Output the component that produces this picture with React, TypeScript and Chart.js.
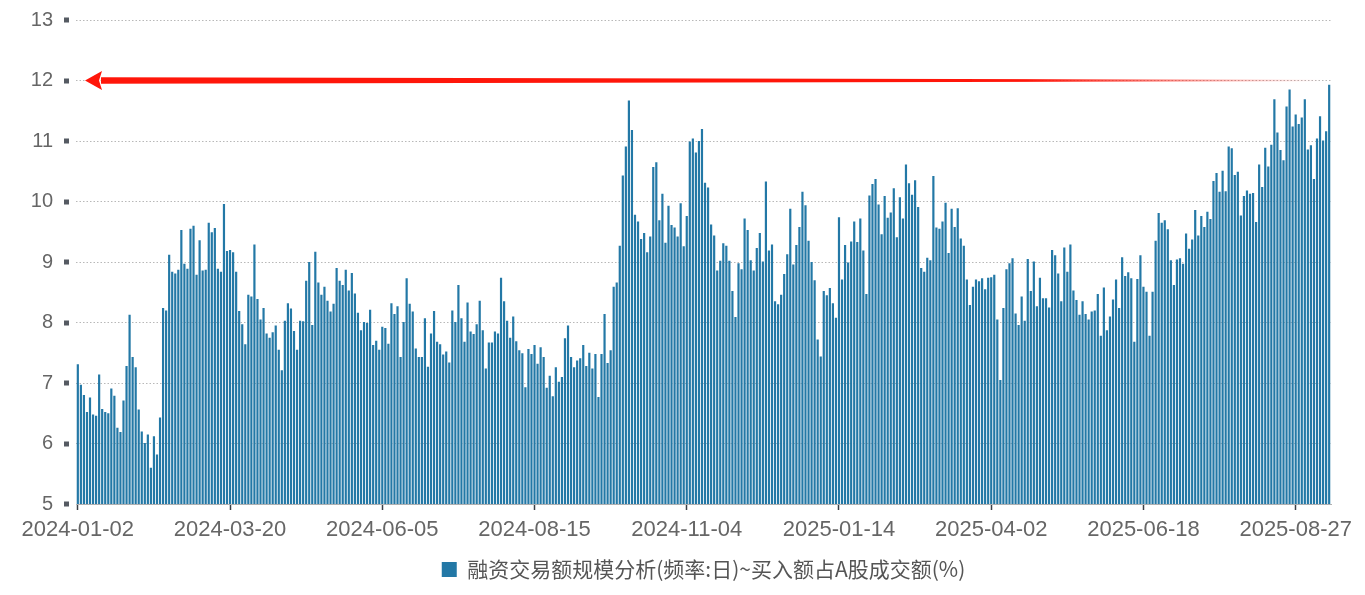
import { useEffect, useRef } from "react";
import { Chart, registerables } from "chart.js";

Chart.register(...registerables);

// daily values, 2024-01-02 .. 2024-12-31
const values2024 = [
  7.31, 6.97, 6.8, 6.52, 6.76, 6.48, 6.46, 7.14, 6.57, 6.52,
  6.5, 6.91, 6.79, 6.26, 6.19, 6.71, 7.28, 8.13, 7.43, 7.26,
  6.56, 6.2, 6.01, 6.15, 5.6, 6.12, 5.82, 6.43, 8.24, 8.2,
  9.12, 8.84, 8.81, 8.87, 9.53, 8.97, 8.89, 9.55, 9.6, 8.79,
  9.36, 8.86, 8.87, 9.65, 9.49, 9.56, 8.89, 8.84, 9.96, 9.18,
  9.2, 9.16, 8.84, 8.19, 7.97, 7.64, 8.46, 8.43, 9.29, 8.39,
  8.05, 8.24, 7.82, 7.75, 7.84, 7.95, 7.55, 7.21, 8.03, 8.32,
  8.23, 7.86, 7.55, 8.03, 8.02, 8.69, 9.0, 7.96, 9.17, 8.66,
  8.46, 8.59, 8.36, 8.18, 8.31, 8.9, 8.69, 8.62, 8.87, 8.53,
  8.82, 8.48, 8.16, 7.87, 8.01, 7.99, 8.21, 7.63, 7.7, 7.55,
  7.93, 7.91, 7.65, 8.32, 8.14, 8.27, 7.43, 8.01, 8.73, 8.31,
  8.18, 7.57, 7.43, 7.43, 8.07, 7.27, 7.82, 8.19, 7.68, 7.64,
  7.47, 7.52, 7.34, 8.2, 8.01, 8.62, 8.07, 7.68, 8.33, 7.85,
  7.81, 7.97, 8.36, 7.87, 7.24, 7.67, 7.67, 7.85, 7.82, 8.74,
  8.35, 8.03, 7.75, 8.1, 7.69, 7.54, 7.49, 6.93, 7.56, 7.48,
  7.63, 7.32, 7.59, 7.43, 6.92, 7.12, 6.78, 7.26, 7.02, 7.1,
  7.74, 7.95, 7.43, 7.26, 7.37, 7.41, 7.63, 7.28, 7.5, 7.24,
  7.48, 6.77, 7.48, 8.14, 7.33, 7.54, 8.59, 8.66, 9.27, 10.43,
  10.91, 11.67, 11.18, 9.78, 9.67, 9.38, 9.48, 9.16, 9.42, 10.57,
  10.65, 9.69, 10.13, 9.32, 9.93, 9.61, 9.57, 9.42, 9.97, 9.26,
  9.76, 10.99, 11.04, 10.81, 11.0, 11.2, 10.31, 10.23, 9.62, 9.44,
  8.86, 9.02, 9.31, 9.27, 9.02, 8.52, 8.09, 8.98, 8.88, 9.72,
  9.53, 9.03, 8.86, 9.23, 9.48, 9.01, 10.33, 9.19, 9.29, 8.35,
  8.3, 8.46, 8.8, 9.13, 9.88, 8.96, 9.28, 9.58, 10.16, 9.94,
  9.35, 9.0,
];

// daily values, 2025-01-02 onwards
const values2025 = [
  8.7, 7.72, 7.44, 8.52, 8.45, 8.57, 8.32, 8.08, 9.74, 8.71,
  9.28, 8.99, 9.34, 9.67, 9.33, 9.72, 9.19, 8.47, 10.1, 10.29,
  10.37, 9.95, 9.46, 10.09, 9.73, 9.82, 10.22, 9.41, 10.07, 9.72,
  10.61, 10.3, 10.11, 10.35, 9.91, 8.9, 8.84, 9.07, 9.03, 10.42,
  9.57, 9.55, 9.67, 9.98, 9.15, 9.88, 9.58, 9.89, 9.39, 9.27,
  8.71, 8.29, 8.59, 8.71, 8.68, 8.73, 8.55, 8.74, 8.75, 8.79,
  8.05, 7.05, 8.24, 8.88, 8.98, 9.06, 8.15, 7.96, 8.43, 8.03,
  9.05, 8.52, 9.01, 8.27, 8.74, 8.4, 8.4, 8.25, 9.2, 9.11,
  8.81, 8.35, 9.24, 8.84, 9.29, 8.53, 8.37, 8.13, 8.35, 8.14,
  8.05, 8.18, 8.2, 8.47, 7.78, 8.58, 7.87, 8.1, 8.38, 8.71,
  8.24, 9.08, 8.77, 8.83, 8.73, 7.68, 8.72, 9.11, 8.59, 8.51,
  7.78, 8.51, 9.35, 9.81, 9.65, 9.69, 9.54, 9.03, 8.62, 9.04,
  9.06, 8.97, 9.47, 9.22, 9.37, 9.86, 9.44, 9.76, 9.58, 9.83,
  9.71, 10.34, 10.47, 10.16, 10.51, 10.17, 10.91, 10.88, 10.44, 10.49,
  9.77, 10.09, 10.18, 10.13, 10.14, 9.66, 10.61, 10.24, 10.89, 10.58,
  10.94, 11.69, 11.14, 10.85, 10.68, 11.57, 11.85, 11.24, 11.44, 11.28,
  11.39, 11.69, 10.86, 10.93, 10.37, 11.04, 11.41, 11.01, 11.16, 11.93,
];

// x-axis labels, one every 50 trading days
const tickLabels = [
  "2024-01-02", "2024-03-20", "2024-06-05", "2024-08-15", "2024-11-04",
  "2025-01-14", "2025-04-02", "2025-06-18", "2025-08-27",
];
const tickStep = 50;

const seriesName = "融资交易额规模分析(频率:日)~买入额占A股成交额(%)";
const markLevel = 12;

const barColor = "#2378a6";
const fontFamily = "'Liberation Sans', 'Noto Sans CJK SC', sans-serif";

// small square markers left of the y grid lines
const yMarkers = {
  id: "yMarkers",
  afterDraw(chart: any) {
    const { ctx, chartArea, scales } = chart;
    ctx.save();
    ctx.fillStyle = "#555a62";
    scales.y.ticks.forEach((t: any) => {
      const py = Math.round(scales.y.getPixelForValue(t.value));
      ctx.fillRect(chartArea.left - 12, py - 2.5, 5, 5);
    });
    ctx.restore();
  },
};

// red arrow pointing at the 12 level
const arrow = {
  id: "arrow",
  afterDatasetsDraw(chart: any) {
    const { ctx, chartArea, scales } = chart;
    const y = scales.y.getPixelForValue(markLevel);
    const tipX = chartArea.left + 9;
    const headX = tipX + 17;
    const endX = chartArea.right - 8;
    const grad = ctx.createLinearGradient(tipX, 0, endX, 0);
    grad.addColorStop(0, "rgba(255,22,10,1)");
    grad.addColorStop(0.76, "rgba(255,22,10,1)");
    grad.addColorStop(1, "rgba(255,22,10,0)");
    ctx.save();
    ctx.fillStyle = grad;
    ctx.beginPath();
    ctx.moveTo(headX - 1, y - 3.2);
    ctx.lineTo(endX, y - 0.7);
    ctx.lineTo(endX, y + 0.7);
    ctx.lineTo(headX - 1, y + 3.2);
    ctx.closePath();
    ctx.fill();
    ctx.beginPath();
    ctx.moveTo(tipX, y);
    ctx.lineTo(headX, y - 9.5);
    ctx.lineTo(headX - 3, y);
    ctx.lineTo(headX, y + 9.5);
    ctx.closePath();
    ctx.fill();
    ctx.restore();
  },
};

export default function App() {
  const chartRef = useRef<HTMLCanvasElement>(null);
  const chartInstance = useRef<Chart | null>(null);

  useEffect(() => {
    document.body.style.margin = "0";
    if (!chartRef.current) return;
    if (chartInstance.current) chartInstance.current.destroy();

    const values = [...values2024, ...values2025];

    chartInstance.current = new Chart(chartRef.current, {
      type: "bar",
      data: {
        datasets: [
          {
            label: seriesName,
            data: values.map((v, i) => ({ x: i, y: v })),
            backgroundColor: barColor,
            borderWidth: 0,
          },
        ],
      },
      options: {
        animation: false,
        responsive: true,
        maintainAspectRatio: false,
        layout: { padding: { top: 20, right: 34, bottom: 5, left: 0 } },
        plugins: {
          legend: {
            position: "bottom",
            fullSize: false,
            labels: {
              boxWidth: 15,
              boxHeight: 15,
              padding: 10,
              color: "#555",
              font: { size: 21, family: "'Noto Sans CJK SC', sans-serif" },
            },
          },
          tooltip: { enabled: false },
        },
        scales: {
          x: {
            type: "linear",
            offset: false,
            min: -0.6,
            max: values.length - 0.4,
            afterBuildTicks: (scale: any) => {
              scale.ticks = tickLabels.map((_, k) => ({ value: k * tickStep }));
            },
            afterFit: (scale: any) => {
              scale.height = 45;
            },
            ticks: {
              autoSkip: false,
              maxRotation: 0,
              padding: 7,
              color: "#666",
              font: { size: 22, family: fontFamily },
              callback: (value: any) => tickLabels[Math.round(value / tickStep)] ?? "",
            },
            grid: {
              display: true,
              offset: false,
              drawOnChartArea: false,
              drawTicks: true,
              tickLength: 6,
              tickColor: "#3a3f46",
              tickWidth: 1.5,
            },
            border: { display: true, color: "#b0b0b0", width: 1 },
          },
          y: {
            min: 5,
            max: 13,
            afterFit: (scale: any) => {
              scale.width = 76;
            },
            ticks: {
              stepSize: 1,
              padding: 0,
              color: "#666",
              font: { size: 20, family: fontFamily },
            },
            grid: {
              color: "#b8b8b8",
              lineWidth: 1,
              drawTicks: true,
              tickLength: 23,
              tickColor: "rgba(0,0,0,0)",
            },
            border: { display: false, dash: [1.5, 2] },
          },
        },
      },
      plugins: [yMarkers, arrow],
    });

    return () => {
      if (chartInstance.current) {
        chartInstance.current.destroy();
        chartInstance.current = null;
      }
    };
  }, []);

  return (
    <div style={{ width: 1365, height: 595, position: "relative" }}>
      <canvas ref={chartRef} />
    </div>
  );
}
